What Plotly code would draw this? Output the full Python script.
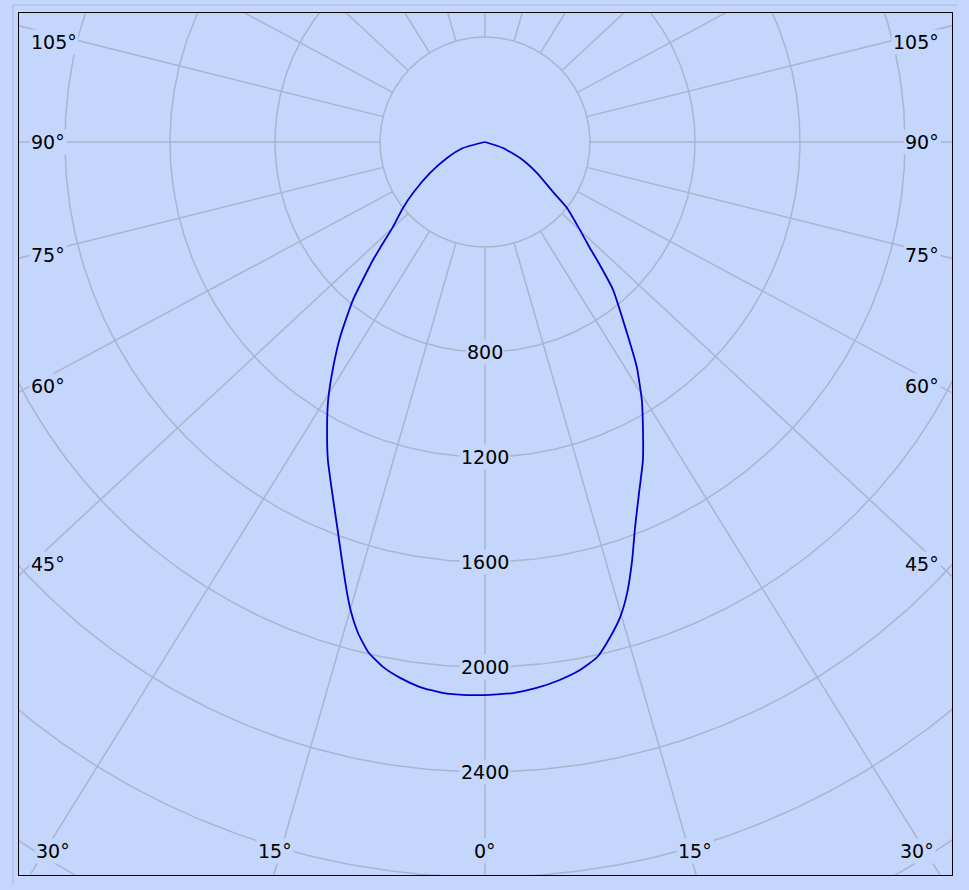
import numpy as np
import plotly.graph_objects as go

# ---------------- data ----------------
# luminous intensity (cd) versus angle from nadir (deg); left half and right half
left_angles = [0, 1.9, 4.4, 6.8, 9.0, 11.0, 12.9, 14.5, 15.9, 17.0, 18.9, 21.0, 23.5, 26.3,
               29.0, 31.3, 34.0, 36.6, 39.9, 43.5, 44.7, 47.3, 51.2, 54.7, 60.6, 67.2, 74.7, 90]
left_values = [2107, 2108, 2105, 2091, 2067, 2037, 1993, 1932, 1862, 1797, 1683, 1571, 1459, 1351,
               1241, 1150, 1034, 926, 784, 620, 568, 477, 401, 336, 240, 157, 87, 0]
right_angles = [0, 2.9, 5.4, 7.9, 10.2, 12.3, 14.2, 15.9, 17.5, 19.4, 21.3, 23.7, 26.4, 29.0,
                31.3, 34.0, 36.3, 40.9, 43.5, 44.7, 47.2, 51.2, 53.7, 59.2, 65.4, 71.6, 90]
right_values = [2107, 2102, 2089, 2069, 2044, 2008, 1945, 1881, 1801, 1688, 1574, 1460, 1353, 1241,
                1150, 1034, 921, 745, 620, 568, 493, 401, 322, 231, 147, 72, 0]

circle_values = [400, 800, 1200, 1600, 2000, 2400, 2800, 3200, 3600]
circle_labels = ["800", "1200", "1600", "2000", "2400"]
spoke_angles = list(range(0, 360, 15))
side_label_angles = [45, 60, 75, 90, 105]
bottom_label_angles = [0, 15, 30]

# ---------------- style ----------------
BG = "#c4d6fb"
GRID = "#a9b4cd"
CURVE = "#0000c8"
FONT = "DejaVu Sans, Verdana, sans-serif"
FS = 19

W, H = 969, 890
ML, MR, MT, MB = 19, 17, 13, 15
PLOT_W, PLOT_H = W - ML - MR, H - MT - MB
PX = 400 / 105.0           # cd per pixel
CX_L, CX_R = 466, 467       # px from centre to frame left / right
CY_T, CY_B = 129, 733       # px from centre to frame top / bottom
K = 0.93                    # vertical squash used by the spokes
HOLE = circle_values[0]

fig = go.Figure()

# circles
t = np.linspace(0, 2 * np.pi, 721)
for rv in circle_values:
    fig.add_trace(go.Scatter(x=rv * np.sin(t), y=rv * np.cos(t), mode="lines",
                             line=dict(color=GRID, width=1.5), hoverinfo="skip", showlegend=False))

# spokes (from the hole outward)
for a in spoke_angles:
    th = np.radians(a)
    dx, dy = np.sin(th), -K * np.cos(th)
    n = np.hypot(dx, dy)
    dx, dy = dx / n, dy / n
    fig.add_trace(go.Scatter(x=[HOLE * dx, 6000 * dx], y=[HOLE * dy, 6000 * dy], mode="lines",
                             line=dict(color=GRID, width=1.5), hoverinfo="skip", showlegend=False))

# intensity curve: two halves meeting at the pole (sharp apex) and at nadir
for side, angs, vals in ((-1, left_angles, left_values), (1, right_angles, right_values)):
    a = np.radians(np.array(angs))
    v = np.array(vals, dtype=float)
    fig.add_trace(go.Scatter(x=side * v * np.sin(a), y=-v * np.cos(a), mode="lines",
                             line=dict(color=CURVE, width=1.8, shape="spline", smoothing=0.5),
                             hoverinfo="skip", showlegend=False))

ann = []
# circle value labels on the 0deg spoke
for lab in circle_labels:
    ann.append(dict(x=0, y=-float(lab), text=lab, showarrow=False, xanchor="center", yanchor="middle",
                    bgcolor=BG, borderpad=1, font=dict(family=FONT, size=FS, color="black")))

# angle labels on the sides
for a in side_label_angles:
    th = np.radians(a)
    xp = CX_L - 12
    yp = -K * np.cos(th) * xp / np.sin(th)
    yp = min(max(yp, -(CY_B - 24)), CY_T - 29)
    for side in (-1, 1):
        ann.append(dict(x=side * (CX_L - 10 if side < 0 else CX_R - 11) * PX, y=yp * PX,
                        text=f"{a}°", showarrow=False,
                        xanchor="left" if side < 0 else "right", yanchor="middle",
                        bgcolor=BG, borderpad=1, font=dict(family=FONT, size=FS, color="black")))

# angle labels at the bottom
for a in bottom_label_angles:
    th = np.radians(a)
    yl = CY_B - 5
    xp = np.tan(th) / K * yl
    xp = min(xp, CX_L - 34)
    for side in ((-1, 1) if a else (1,)):
        ann.append(dict(x=side * xp * PX, y=-(CY_B - 24) * PX, text=f"{a}°", showarrow=False,
                        xanchor="center", yanchor="middle",
                        bgcolor=BG, borderpad=1, font=dict(family=FONT, size=FS, color="black")))

fig.update_layout(
    width=W, height=H,
    margin=dict(l=ML, r=MR, t=MT, b=MB, pad=0),
    paper_bgcolor=BG, plot_bgcolor=BG,
    annotations=ann,
    shapes=[
        dict(type="line", xref="paper", yref="paper", x0=-6 / PLOT_W, x1=1 + 5 / PLOT_W,
             y0=1 + 8 / PLOT_H, y1=1 + 8 / PLOT_H, line=dict(color="#a9b9d9", width=1)),
        dict(type="line", xref="paper", yref="paper", x0=-6 / PLOT_W, x1=-6 / PLOT_W,
             y0=-10 / PLOT_H, y1=1 + 8 / PLOT_H, line=dict(color="#a9b9d9", width=1)),
    ],
)
fig.update_xaxes(range=[-CX_L * PX, CX_R * PX], showgrid=False, zeroline=False, showticklabels=False,
                 showline=True, mirror=True, linecolor="black", linewidth=1, ticks="", fixedrange=True)
fig.update_yaxes(range=[-CY_B * PX, CY_T * PX], showgrid=False, zeroline=False, showticklabels=False,
                 showline=True, mirror=True, linecolor="black", linewidth=1, ticks="", fixedrange=True)

fig.write_html("out.html", config={"displayModeBar": False},
               post_script="document.body.style.margin='0px';document.body.style.background='" + BG + "';")
